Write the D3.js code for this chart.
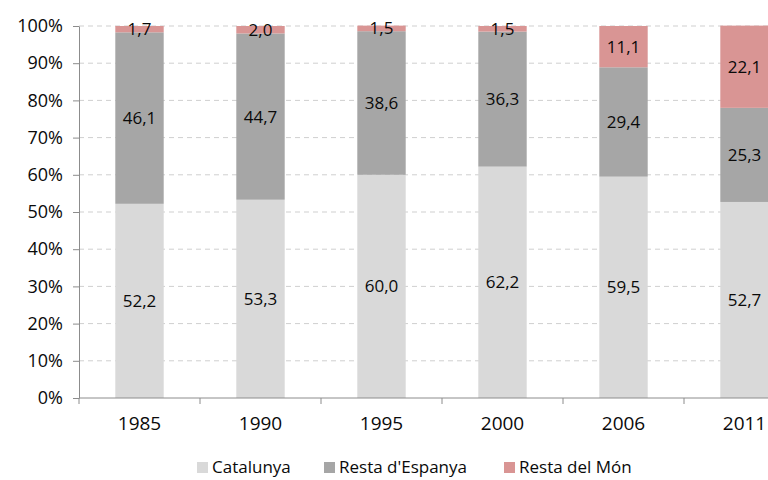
<!DOCTYPE html>
<html>
<head>
<meta charset="utf-8">
<script src="https://cdn.jsdelivr.net/npm/d3@7"></script>
<style>
  body { margin: 0; background: #fff; }
  text { font-family: "Open Sans", sans-serif; fill: #0a0a0a; }
</style>
</head>
<body>
<svg id="chart" width="768" height="480"></svg>
<script>
// data (percentages)
var years = ["1985", "1990", "1995", "2000", "2006", "2011"];
var catalunya = [52.2, 53.3, 60.0, 62.2, 59.5, 52.7];
var restaEspanya = [46.1, 44.7, 38.6, 36.3, 29.4, 25.3];
var restaMon = [1.7, 2.0, 1.5, 1.5, 11.1, 22.1];
var seriesNames = ["Catalunya", "Resta d'Espanya", "Resta del Món"];
var colors = ["#d9d9d9", "#a6a6a6", "#d99594"];
var yTicks = [0, 10, 20, 30, 40, 50, 60, 70, 80, 90, 100];

var svg = d3.select("#chart");
var margin = { top: 26, left: 79 };

var rows = years.map(function (y, i) {
    return { year: y, c: catalunya[i], e: restaEspanya[i], m: restaMon[i] };
});

var x = d3.scaleBand().domain(years).range([margin.left, margin.left + 6 * 121]).paddingInner(0.6).paddingOuter(0.3);
var y = d3.scaleLinear().domain([0, 100]).range([398, margin.top]);

// dashed gridlines
svg.append("g").selectAll("line")
    .data(yTicks.filter(function (d) { return d > 0; }))
    .enter().append("line")
    .attr("x1", margin.left).attr("x2", 768)
    .attr("y1", function (d) { return y(d); })
    .attr("y2", function (d) { return y(d); })
    .attr("stroke", "#cfcfcf")
    .attr("stroke-dasharray", "5,4");

var stack = d3.stack().keys(["c", "e", "m"]);
var layers = stack(rows);

var lg = svg.append("g").selectAll("g")
    .data(layers)
    .enter().append("g")
    .attr("fill", function (d, i) { return colors[i]; });

lg.selectAll("rect")
    .data(function (d) { return d; })
    .enter().append("rect")
    .attr("x", function (d) { return x(d.data.year); })
    .attr("y", function (d) { return y(d[1]); })
    .attr("width", x.bandwidth())
    .attr("height", function (d) { return y(d[0]) - y(d[1]); });

// value labels
layers.forEach(function (layer) {
    svg.append("g").selectAll("text")
        .data(layer)
        .enter().append("text")
        .attr("x", function (d) { return x(d.data.year) + x.bandwidth() / 2; })
        .attr("y", function (d) { return y((d[0] + d[1]) / 2); })
        .attr("dy", "0.35em")
        .attr("text-anchor", "middle")
        .style("font-size", "17px")
        .text(function (d) { return d3.format(".1f")(d[1] - d[0]).replace(".", ","); });
});

// y axis
var yAxis = svg.append("g")
    .attr("transform", "translate(" + margin.left + ",0)")
    .call(d3.axisLeft(y).tickValues(yTicks).tickSize(6).tickSizeOuter(0)
        .tickFormat(function (d) { return d + "%"; }));
yAxis.selectAll("text").style("font-size", "18px").attr("x", -16);
yAxis.selectAll("line, path").attr("stroke", "#8c8c8c");

// x axis with ticks at band boundaries
var xAxis = svg.append("g")
    .attr("transform", "translate(0,398)")
    .call(d3.axisBottom(x).tickSize(0).tickPadding(19));
xAxis.select("path").attr("d", "M" + margin.left + ",0H768").attr("stroke", "#8c8c8c");
xAxis.selectAll("text").style("font-size", "19px");
svg.append("g").selectAll("line")
    .data(d3.range(0, 7))
    .enter().append("line")
    .attr("x1", function (d) { return margin.left + d * 121; })
    .attr("x2", function (d) { return margin.left + d * 121; })
    .attr("y1", 398).attr("y2", 404)
    .attr("stroke", "#8c8c8c");

// legend
var legendX = [197, 324, 504];
var leg = svg.append("g").selectAll("g")
    .data(seriesNames)
    .enter().append("g")
    .attr("transform", function (d, i) { return "translate(" + legendX[i] + ",462)"; });
leg.append("rect").attr("width", 11).attr("height", 11)
    .attr("fill", function (d, i) { return colors[i]; });
leg.append("text").attr("x", 15).attr("y", 5).attr("dy", "0.35em")
    .style("font-size", "17px")
    .text(function (d) { return d; });
</script>
</body>
</html>
